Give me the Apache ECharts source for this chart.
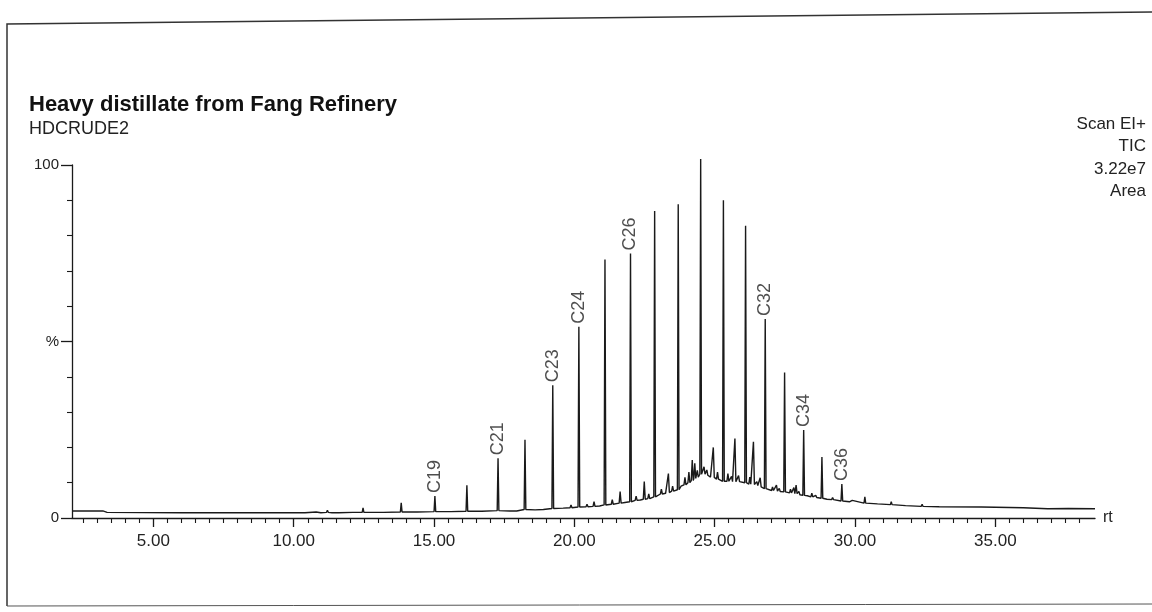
<!DOCTYPE html>
<html>
<head>
<meta charset="utf-8">
<script src="https://cdn.jsdelivr.net/npm/echarts@6/dist/echarts.min.js"></script>
<style>
html,body{margin:0;padding:0;background:#fff;}
#chart{width:1152px;height:612px;}
</style>
</head>
<body>
<div id="chart"></div>
<script>
// ---- tick labels ----
const xMajorTicks = [5, 10, 15, 20, 25, 30, 35];
const yMajorTicks = [0, 50, 100];
const yTickLabels = ['0', '%', '100'];
const yMinorTicks = [10, 20, 30, 40, 60, 70, 80, 90];
const xMinorTicks = [];
for (let v = 2.5; v <= 38.01; v += 0.5) { if (Math.abs(v % 5) > 1e-6) xMinorTicks.push(+v.toFixed(1)); }

// ---- unresolved baseline / hump (rt, %) ----
const baselineRt  = [2.1, 3.2, 3.35, 6.0, 9.0, 10.4, 10.8, 11.6, 12.1, 13.2, 14.4, 15.6, 16.7, 17.7, 18.6, 19.6, 20.9, 21.4, 21.8, 22.35, 23.25, 23.8, 24.85, 25.2, 25.95, 26.7, 27.4, 28.3, 29.0, 29.8, 30.8, 31.8, 33.0, 34.5, 36.0, 37.6, 38.55];
const baselinePct = [2.0, 2.0, 1.6, 1.5, 1.5, 1.5, 1.7, 1.5, 1.6, 1.6, 1.7, 1.8, 1.9, 2.0, 2.3, 2.8, 3.4, 4.0, 4.4, 5.1, 7.0, 9.0, 11.6, 10.8, 10.2, 8.6, 7.5, 6.3, 5.3, 4.6, 4.0, 3.5, 3.2, 3.1, 2.9, 2.7, 2.6];

// ---- n-alkane peaks ----
const alkaneNames = ['C16','C17','C18','C19','C20','C21','C22','C23','C24','C25','C26','C27','C28','C29','C30','C31','C32','C33','C34','C35','C36','C37','C38','C39'];
const alkaneRt    = [11.2, 12.47, 13.83, 15.03, 16.17, 17.28, 18.24, 19.23, 20.16, 21.09, 22.00, 22.86, 23.70, 24.50, 25.31, 26.10, 26.80, 27.49, 28.17, 28.82, 29.53, 30.35, 31.29, 32.39];
const alkaneTop   = [2.2, 2.9, 4.3, 6.2, 9.3, 16.9, 22.2, 37.6, 54.2, 73.2, 74.9, 87.0, 88.9, 101.7, 90.0, 82.8, 56.4, 41.2, 24.9, 17.3, 9.6, 6.0, 4.6, 3.9];
const alkaneFoot  = [1.6, 1.6, 1.7, 1.8, 1.9, 2.1, 2.4, 2.7, 3.1, 3.7, 4.6, 6.0, 8.0, 12.4, 10.4, 10.0, 8.3, 7.4, 6.4, 5.6, 4.8, 4.2, 3.8, 3.3];
const labelledPeaks = ['C19','C21','C23','C24','C26','C32','C34','C36'];

// ---- minor (non-alkane) peaks ----
const minorRt   = [11.0, 11.4, 17.98, 18.93, 19.88, 20.45, 20.7, 21.35, 21.63, 22.2, 22.49, 22.65, 23.1, 23.35, 23.5, 23.94, 24.08, 24.2, 24.29, 24.38, 24.62, 24.72, 24.95, 25.1, 25.47, 25.6, 25.72, 25.85, 26.25, 26.38, 26.5, 26.62, 27.06, 27.2, 27.3, 27.7, 27.82, 27.9, 28.0, 28.46, 28.6, 29.2, 29.9, 36.9];
const minorTop  = [1.9, 1.8, 2.3, 2.9, 3.7, 3.9, 4.6, 5.2, 7.5, 6.2, 10.3, 6.8, 8.2, 12.6, 9.0, 11.5, 13.0, 16.4, 15.5, 13.5, 14.5, 13.6, 20.0, 13.0, 12.6, 11.8, 22.5, 12.0, 11.6, 21.6, 10.3, 11.4, 8.8, 9.3, 8.4, 8.2, 8.6, 9.3, 7.5, 7.0, 6.4, 5.8, 5.0, 2.9];
const minorFoot = [1.5, 1.5, 2.0, 2.4, 2.9, 3.2, 3.3, 3.9, 4.2, 5.0, 5.3, 5.5, 6.8, 7.2, 7.6, 9.4, 10.0, 10.6, 11.2, 11.6, 12.4, 12.1, 11.5, 11.0, 10.4, 10.3, 10.3, 10.3, 9.6, 9.5, 9.2, 8.8, 7.8, 7.6, 7.5, 7.1, 6.9, 6.9, 6.6, 6.0, 5.8, 5.2, 4.5, 2.6];

// ---- build the trace polyline from the read values ----
const trace = [];
baselineRt.forEach((t, i) => trace.push([t, baselinePct[i]]));
alkaneRt.forEach((t, i) => {
  trace.push([t - 0.03, alkaneFoot[i]], [t, alkaneTop[i]], [t + 0.03, alkaneFoot[i]]);
});
minorRt.forEach((t, i) => {
  trace.push([t - 0.035, minorFoot[i]], [t, minorTop[i]], [t + 0.035, minorFoot[i]]);
});
trace.sort((a, b) => a[0] - b[0]);

const labelData = labelledPeaks.map(n => {
  const i = alkaneNames.indexOf(n);
  return { name: n, value: [alkaneRt[i], alkaneTop[i]] };
});

const FONT = '"Liberation Sans", Arial, sans-serif';
const INK = '#1a1a1a';
const X_MIN = 2.1, X_MAX = 38.55;

const chart = echarts.init(document.getElementById('chart'), null, { renderer: 'canvas' });
chart.setOption({
  animation: false,
  backgroundColor: '#ffffff',
  title: [{
    text: 'Heavy distillate from Fang Refinery',
    left: 24, top: 89,
    textStyle: { fontFamily: FONT, fontSize: 22, fontWeight: 'bold', color: '#111' },
    subtext: 'HDCRUDE2',
    subtextStyle: { fontFamily: FONT, fontSize: 18, color: '#222' },
    itemGap: 4
  }],
  graphic: [
    { type: 'polyline', shape: { points: [[7, 606], [7, 24], [1152, 12]] }, style: { stroke: '#333', lineWidth: 1.5, fill: null } },
    { type: 'line', shape: { x1: 7, y1: 606, x2: 1152, y2: 604 }, style: { stroke: '#555', lineWidth: 1 } },
    { type: 'text', x: 1146, y: 113, style: { text: 'Scan EI+\nTIC\n3.22e7\nArea', align: 'right', verticalAlign: 'top', fontFamily: FONT, fontSize: 17, lineHeight: 22.5, fill: '#222' } }
  ],
  grid: { left: 72, right: 57, top: 165, bottom: 94 },
  xAxis: [{
    type: 'value', min: X_MIN, max: X_MAX, position: 'bottom',
    axisLine: { show: true, lineStyle: { color: INK, width: 1.3 } },
    axisTick: { show: true, customValues: xMajorTicks, length: 9, lineStyle: { color: INK, width: 1.3 } },
    axisLabel: { show: true, customValues: xMajorTicks, formatter: v => Number(v).toFixed(2), fontFamily: FONT, fontSize: 17, color: '#222', margin: 15 },
    splitLine: { show: false },
    name: 'rt', nameLocation: 'end', nameGap: 8,
    nameTextStyle: { fontFamily: FONT, fontSize: 16, color: '#222', verticalAlign: 'middle' }
  }, {
    type: 'value', min: X_MIN, max: X_MAX, position: 'bottom',
    axisLine: { show: false },
    axisTick: { show: true, customValues: xMinorTicks, length: 5, lineStyle: { color: INK, width: 1.1 } },
    axisLabel: { show: false },
    splitLine: { show: false }
  }],
  yAxis: [{
    type: 'value', min: 0, max: 100, position: 'left',
    axisLine: { show: true, lineStyle: { color: INK, width: 1.3 } },
    axisTick: { show: true, customValues: yMajorTicks, length: 11, lineStyle: { color: INK, width: 1.3 } },
    axisLabel: { show: true, customValues: yMajorTicks, formatter: v => yTickLabels[yMajorTicks.indexOf(Number(v))], fontFamily: FONT, fontSize: 15, color: '#222', margin: 13 },
    splitLine: { show: false }
  }, {
    type: 'value', min: 0, max: 100, position: 'left',
    axisLine: { show: false },
    axisTick: { show: true, customValues: yMinorTicks, length: 5, lineStyle: { color: INK, width: 1.1 } },
    axisLabel: { show: false },
    splitLine: { show: false }
  }],
  series: [{
    type: 'line', xAxisIndex: 0, yAxisIndex: 0,
    data: trace, showSymbol: false, symbol: 'none', clip: false,
    lineStyle: { color: INK, width: 1.4 }, sampling: null, silent: true
  }, {
    type: 'scatter', xAxisIndex: 0, yAxisIndex: 0,
    data: labelData, symbolSize: 0, clip: false, silent: true,
    label: {
      show: true, formatter: p => p.name, position: 'top', distance: 3,
      rotate: 90, align: 'left', verticalAlign: 'middle',
      fontFamily: FONT, fontSize: 18, color: '#222'
    }
  }]
});
</script>
</body>
</html>
